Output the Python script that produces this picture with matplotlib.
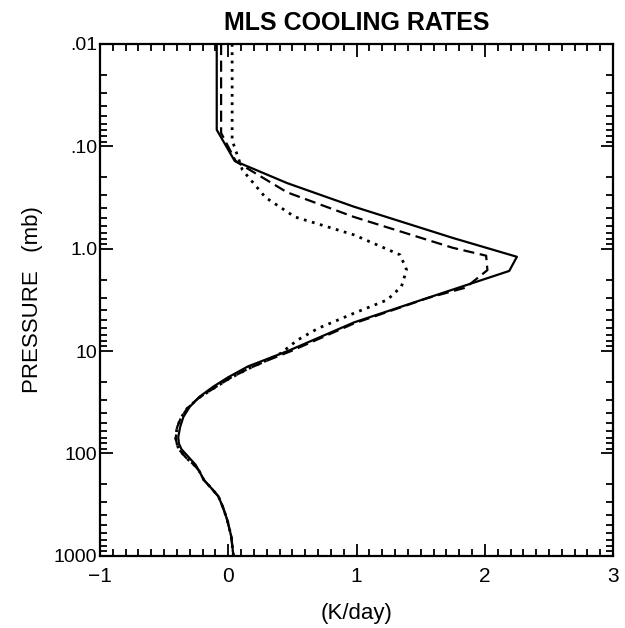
import numpy as np
import matplotlib
matplotlib.use("Agg")
import matplotlib.pyplot as plt
from matplotlib.ticker import MultipleLocator, LogLocator, NullFormatter

plt.rcParams['font.family'] = ['Liberation Sans Narrow', 'Liberation Sans', 'DejaVu Sans']

# pressure (mb) and cooling rate (K/day)
p_solid = [0.01, 0.069, 0.139, 0.229, 0.389, 0.785, 1.20, 1.65, 2.95, 5.25, 9.8, 12,
           14.1, 18, 22.4, 28, 35, 44, 55, 69, 80, 91, 105, 129, 150, 182, 220, 263,
           340, 447, 646, 1000]
q_solid = [-0.09, -0.09, 0.05, 0.46, 0.98, 1.75, 2.25, 2.19, 1.58, 0.98, 0.48, 0.30,
           0.155, 0.0, -0.12, -0.225, -0.30, -0.35, -0.375, -0.39, -0.385, -0.365,
           -0.32, -0.255, -0.225, -0.19, -0.13, -0.077, -0.04, -0.008, 0.023, 0.04]

p_dash = [0.01, 0.074, 0.141, 0.282, 0.49, 0.98, 1.17, 1.62, 2.40, 3.02, 5.37, 10.0, 12,
          14.8, 18.5, 23.4, 29, 36.3, 45, 56, 71, 82, 93, 110, 132, 150, 182, 220, 263,
          340, 447, 646, 1000]
q_dash = [-0.056, -0.056, 0.06, 0.46, 0.98, 1.75, 2.01, 2.02, 1.85, 1.56, 0.98, 0.49, 0.33,
          0.16, 0.01, -0.12, -0.235, -0.32, -0.37, -0.40, -0.41, -0.40, -0.38, -0.33,
          -0.26, -0.225, -0.19, -0.13, -0.077, -0.04, -0.008, 0.023, 0.04]

p_dot = [0.01, 0.087, 0.17, 0.316, 0.49, 0.733, 1.15, 1.61, 2.34, 3.16, 4.27, 6.0, 7.8,
         10.5, 12, 14.8, 18.5, 23.4, 29, 36.3, 45, 56, 71, 82, 93, 110, 132, 150, 182,
         220, 263, 340, 447, 646, 1000]
q_dot = [0.03, 0.03, 0.11, 0.29, 0.52, 0.98, 1.34, 1.39, 1.35, 1.24, 0.98, 0.70, 0.54,
         0.41, 0.32, 0.16, 0.01, -0.12, -0.235, -0.32, -0.37, -0.40, -0.41, -0.40, -0.38,
         -0.33, -0.26, -0.225, -0.19, -0.13, -0.077, -0.04, -0.008, 0.023, 0.04]

yticks = [0.01, 0.1, 1, 10, 100, 1000]
ylabels = ['.01', '.10', '1.0', '10', '100', '1000']
xticks = [-1, 0, 1, 2, 3]
xlabels = ['\u22121', '0', '1', '2', '3']

fig = plt.figure(figsize=(6.25, 6.28), dpi=100)
ax = fig.add_axes([0.16, 0.115, 0.821, 0.815])

ax.plot(q_solid, p_solid, color='black', lw=1.6, ls='-')
ax.plot(q_dash, p_dash, color='black', lw=1.6, ls=(0, (5, 2.5)))
ax.plot(q_dot, p_dot, color='black', lw=2.0, ls=(0, (1, 2)))

ax.set_yscale('log')
ax.set_ylim(1000, 0.01)
ax.set_xlim(-1, 3)
ax.set_yticks(yticks)
ax.set_yticklabels(ylabels)
ax.yaxis.set_minor_locator(LogLocator(base=10, subs=np.arange(2, 10)))
ax.yaxis.set_minor_formatter(NullFormatter())
ax.set_xticks(xticks)
ax.set_xticklabels(xlabels)
ax.xaxis.set_minor_locator(MultipleLocator(0.1))

ax.tick_params(which='both', direction='in', top=True, right=True, width=1.3)
ax.tick_params(axis='y', pad=2, labelsize=14)
ax.tick_params(axis='x', pad=8, labelsize=15)
ax.tick_params(which='major', length=9)
ax.tick_params(which='minor', length=5)
for s in ax.spines.values():
    s.set_linewidth(1.6)

ax.set_title('MLS COOLING RATES', fontsize=18, fontweight='bold', pad=10)
ax.set_xlabel('(K/day)', fontsize=16, labelpad=12)
ax.set_ylabel('PRESSURE   (mb)', fontsize=16, labelpad=8)

fig.savefig('out.png', dpi=100)
